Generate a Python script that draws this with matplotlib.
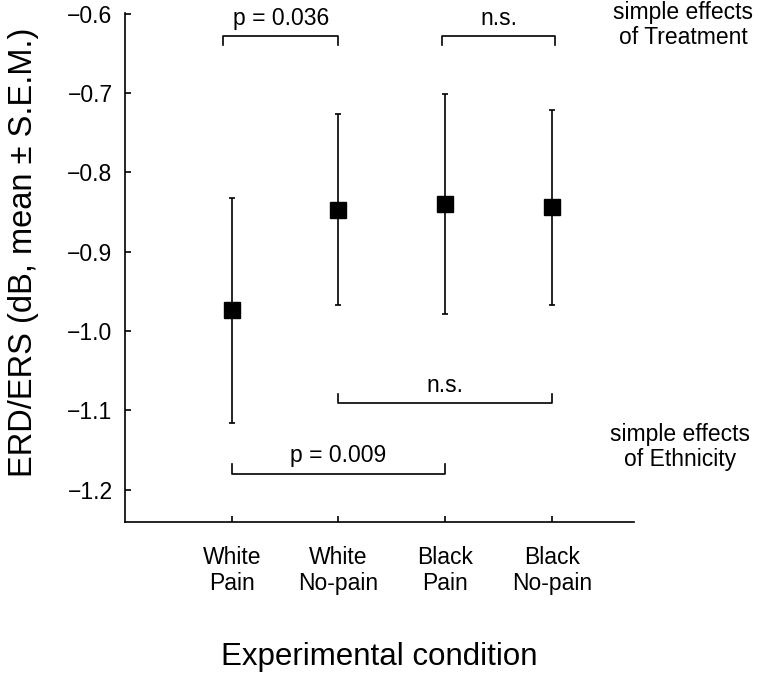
import matplotlib
matplotlib.use("Agg")
import matplotlib.pyplot as plt

# Data
conditions = ["White\nPain", "White\nNo-pain", "Black\nPain", "Black\nNo-pain"]
means = [-0.974, -0.847, -0.840, -0.844]
sems = [0.142, 0.120, 0.139, 0.123]

# Significance brackets: (x_start, x_end, y_line, label)
treatment_brackets = [(0.92, 2.0, -0.628, "p = 0.036"), (2.97, 4.03, -0.628, "n.s.")]
ethnicity_brackets = [(1.0, 3.0, -1.180, "p = 0.009"), (2.0, 4.0, -1.091, "n.s.")]

plt.rcParams["font.family"] = ["Liberation Sans", "DejaVu Sans"]

fig = plt.figure(figsize=(7.6, 6.78), dpi=100)
ax = fig.add_axes([0.1645, 0.230, 0.6697, 0.7504])

x = list(range(1, len(conditions) + 1))
ax.errorbar(x, means, yerr=sems, fmt="s", color="black", ms=11.5,
            elinewidth=1.2, capsize=2.5, capthick=1.2)

ax.set_xlim(0, 4.77)
ax.set_ylim(-1.241, -0.5995)
ax.set_yticks([-1.2, -1.1, -1.0, -0.9, -0.8, -0.7, -0.6])
ax.set_xticks(x)
ax.set_xticklabels(conditions)

for side in ["top", "right"]:
    ax.spines[side].set_visible(False)
for side in ["left", "bottom"]:
    ax.spines[side].set_linewidth(1.2)

ax.tick_params(axis="y", direction="in", length=4, width=1.2, pad=9, labelsize=16.5)
ax.tick_params(axis="x", direction="in", length=4, width=1.2, pad=17, labelsize=16.5)

ax.set_ylabel("ERD/ERS (dB, mean ± S.E.M.)", fontsize=23.5, va="center")
ax.yaxis.set_label_coords(-0.2, 0.53)
ax.set_xlabel("Experimental condition", fontsize=22.5, labelpad=34)

leg = 0.011
# brackets above the points (legs hang down)
for x0, x1, y, label in treatment_brackets:
    ax.plot([x0, x0, x1, x1], [y - leg, y, y, y - leg], color="black", lw=1.2, clip_on=False)
    ax.text((x0 + x1) / 2, y + 0.008, label, ha="center", va="bottom", fontsize=16.5)

# brackets below the points (legs point up)
for x0, x1, y, label in ethnicity_brackets:
    ax.plot([x0, x0, x1, x1], [y + 0.012, y, y, y + 0.012], color="black", lw=1.2, clip_on=False)
    ax.text((x0 + x1) / 2, y + 0.008, label, ha="center", va="bottom", fontsize=16.5)

ax.text(5.23, -0.614, "simple effects\nof Treatment", ha="center", va="center",
        fontsize=16.5, linespacing=1.1, clip_on=False)
ax.text(5.2, -1.146, "simple effects\nof Ethnicity", ha="center", va="center",
        fontsize=16.5, linespacing=1.1, clip_on=False)

fig.savefig("out.png", dpi=100)
